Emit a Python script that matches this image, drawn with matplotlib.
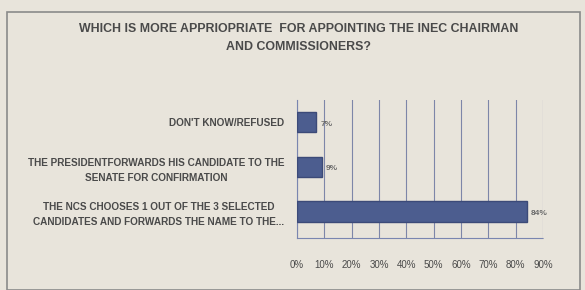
import matplotlib.pyplot as plt
from matplotlib.patches import Rectangle
from matplotlib.ticker import PercentFormatter

title = "WHICH IS MORE APPRIOPRIATE  FOR APPOINTING THE INEC CHAIRMAN\nAND COMMISSIONERS?"
categories = [
    "THE NCS CHOOSES 1 OUT OF THE 3 SELECTED\nCANDIDATES AND FORWARDS THE NAME TO THE...",
    "THE PRESIDENTFORWARDS HIS CANDIDATE TO THE\nSENATE FOR CONFIRMATION",
    "DON'T KNOW/REFUSED",
]
values = [0.84, 0.09, 0.07]
value_labels = ["84%", "9%", "7%"]
ticks = [0.0, 0.1, 0.2, 0.3, 0.4, 0.5, 0.6, 0.7, 0.8, 0.9]

paper = "#e8e4db"
ink = "#4a4a4a"
plt.rcParams["font.family"] = ["Liberation Sans", "DejaVu Sans"]

fig = plt.figure(figsize=(5.85, 2.9), dpi=100, facecolor=paper)
fig.patches.append(Rectangle((7 / 585, 0.0), 573 / 585, 1 - 12 / 290,
                             transform=fig.transFigure, fill=False,
                             edgecolor="#8a8a8a", linewidth=1.2))
fig.text(0.51, 1 - 38 / 290, title, ha="center", va="center", fontsize=8.9,
         fontweight="bold", color=ink, linespacing=1.7)

ax = fig.add_axes([297 / 585, 1 - 238 / 290, 246 / 585, 138 / 290])
ax.set_facecolor("none")
pos = range(len(categories))
ax.barh(pos, values, height=0.46, color="#4c5d8f", edgecolor="#3c4a78", zorder=3)
for p, v, lab in zip(pos, values, value_labels):
    ax.text(v + 0.015, p - 0.05, lab, ha="left", va="center", fontsize=6,
            color="#6a6a6a", fontweight="bold")

ax.set_xlim(0, 0.9)
ax.set_ylim(-0.6, 2.5)
ax.set_xticks(ticks)
ax.xaxis.set_major_formatter(PercentFormatter(1.0, decimals=0))
ax.set_yticks(list(pos))
ax.set_yticklabels(categories, fontsize=7.2, fontweight="bold", color=ink,
                   ha="right", multialignment="center", linespacing=1.6)
ax.tick_params(axis="y", length=0, pad=9)
ax.tick_params(axis="x", length=0, pad=16, labelsize=7, labelcolor=ink)
ax.grid(axis="x", color="#7d86a8", linewidth=0.8, zorder=0)
for s in ["top", "right"]:
    ax.spines[s].set_visible(False)
ax.spines["left"].set_color("#7a86b0")
ax.spines["left"].set_linestyle((0, (2, 1)))
ax.spines["bottom"].set_color("#7a86b0")
ax.spines["bottom"].set_linestyle((0, (2, 1)))

fig.savefig("out.png", dpi=100, facecolor=paper)
